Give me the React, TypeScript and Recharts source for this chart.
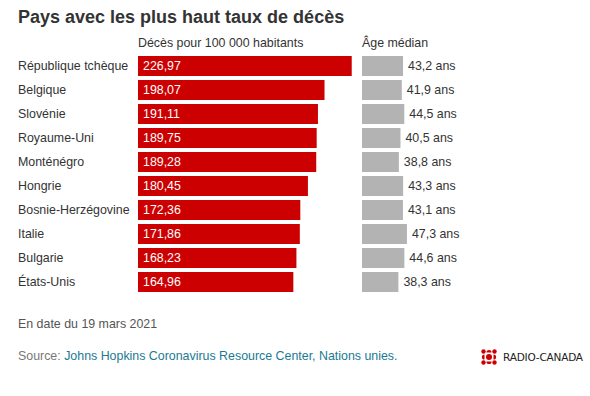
import React from 'react';
import { BarChart, Bar, XAxis, YAxis, LabelList } from 'recharts';

const countries = [
  'République tchèque',
  'Belgique',
  'Slovénie',
  'Royaume-Uni',
  'Monténégro',
  'Hongrie',
  'Bosnie-Herzégovine',
  'Italie',
  'Bulgarie',
  'États-Unis',
];
const deathsPer100k = [226.97, 198.07, 191.11, 189.75, 189.28, 180.45, 172.36, 171.86, 168.23, 164.96];
const medianAge = [43.2, 41.9, 44.5, 40.5, 38.8, 43.3, 43.1, 47.3, 44.6, 38.3];

const title = 'Pays avec les plus haut taux de décès';
const deathsHeader = 'Décès pour 100 000 habitants';
const ageHeader = 'Âge médian';
const dateNote = 'En date du 19 mars 2021';
const sourceLabel = 'Source: ';
const sourceText = 'Johns Hopkins Coronavirus Resource Center, Nations unies.';

const data = countries.map((c, i) => ({ country: c, deaths: deathsPer100k[i], age: medianAge[i] }));

const FONT = '"Liberation Sans", Arial, Helvetica, sans-serif';
const TEXT = '#333333';
const RED = '#cc0000';
const GREY = '#b3b3b3';
const FS = 12.4;

const CountryTick = (props: any) => {
  const { y, payload } = props;
  return (
    <text x={18} y={y} dy="0.35em" textAnchor="start" fontSize={FS} fill={TEXT} fontFamily={FONT}>
      {payload.value}
    </text>
  );
};

const Gem = () => {
  const cx = 489;
  const cy = 357;
  return (
    <svg width={20} height={20} viewBox={`${cx - 10} ${cy - 10} 20 20`} style={{ position: 'absolute', left: cx - 10, top: cy - 10 }}>
      <circle cx={cx} cy={cy} r={3} fill={RED} />
      <path d={`M ${cx - 2.6} ${cy - 4.5} A 2.6 2.6 0 0 1 ${cx + 2.6} ${cy - 4.5} Z`} fill={RED} />
      <path d={`M ${cx - 2.6} ${cy + 4.5} A 2.6 2.6 0 0 0 ${cx + 2.6} ${cy + 4.5} Z`} fill={RED} />
      <path d={`M ${cx - 4.5} ${cy - 2.6} A 2.6 2.6 0 0 0 ${cx - 4.5} ${cy + 2.6} Z`} fill={RED} />
      <path d={`M ${cx + 4.5} ${cy - 2.6} A 2.6 2.6 0 0 1 ${cx + 4.5} ${cy + 2.6} Z`} fill={RED} />
      <circle cx={cx - 5.5} cy={cy - 5.5} r={2.2} fill={RED} />
      <circle cx={cx + 5.5} cy={cy - 5.5} r={2.2} fill={RED} />
      <circle cx={cx - 5.5} cy={cy + 5.5} r={2.2} fill={RED} />
      <circle cx={cx + 5.5} cy={cy + 5.5} r={2.2} fill={RED} />
    </svg>
  );
};

export default function App() {
  return (
    <div
      style={{
        position: 'absolute',
        left: 0,
        top: 0,
        width: 590,
        height: 396,
        background: '#ffffff',
        fontFamily: FONT,
        color: TEXT,
        overflow: 'hidden',
      }}
    >
      <div style={{ position: 'absolute', left: 18, top: 5, fontSize: 18, fontWeight: 'bold', color: '#333', whiteSpace: 'nowrap', lineHeight: '24px' }}>
        {title}
      </div>
      <div style={{ position: 'absolute', left: 138, top: 35, fontSize: FS, whiteSpace: 'nowrap', lineHeight: '16px' }}>
        {deathsHeader}
      </div>
      <div style={{ position: 'absolute', left: 362, top: 35, fontSize: FS, whiteSpace: 'nowrap', lineHeight: '16px' }}>
        {ageHeader}
      </div>

      <div style={{ position: 'absolute', left: 0, top: 54 }}>
        <BarChart width={364} height={240} data={data} layout="vertical" margin={{ top: 0, right: 0, bottom: 0, left: 0 }}>
          <XAxis type="number" hide domain={[0, 240]} allowDataOverflow />
          <YAxis type="category" dataKey="country" width={138} axisLine={false} tickLine={false} tick={<CountryTick />} interval={0} />
          <Bar dataKey="deaths" fill={RED} barSize={20} isAnimationActive={false}>
            <LabelList
              dataKey="deaths"
              position="insideLeft"
              offset={5}
              fill="#ffffff"
              fontSize={FS}
              fontFamily={FONT}
              formatter={(v: any) => Number(v).toFixed(2).replace('.', ',')}
            />
          </Bar>
        </BarChart>
      </div>

      <div style={{ position: 'absolute', left: 362, top: 54 }}>
        <BarChart width={160} height={240} data={data} layout="vertical" margin={{ top: 0, right: 65, bottom: 0, left: 0 }}>
          <XAxis type="number" hide domain={[0, 100]} allowDataOverflow />
          <YAxis type="category" dataKey="country" hide />
          <Bar dataKey="age" fill={GREY} barSize={20} isAnimationActive={false}>
            <LabelList
              dataKey="age"
              position="right"
              offset={5}
              fill={TEXT}
              fontSize={FS}
              fontFamily={FONT}
              formatter={(v: any) => Number(v).toFixed(1).replace('.', ',') + ' ans'}
            />
          </Bar>
        </BarChart>
      </div>

      <div style={{ position: 'absolute', left: 18, top: 316, fontSize: FS, color: '#555', whiteSpace: 'nowrap', lineHeight: '16px' }}>
        {dateNote}
      </div>
      <div style={{ position: 'absolute', left: 18, top: 348, fontSize: FS, whiteSpace: 'nowrap', lineHeight: '16px' }}>
        <span style={{ color: '#777' }}>{sourceLabel}</span>
        <span style={{ color: '#1b7a92' }}>{sourceText}</span>
      </div>

      <Gem />
      <div style={{ position: 'absolute', left: 503, top: 351, fontSize: 10.5, color: '#222', whiteSpace: 'nowrap', lineHeight: '13px', fontFamily: '"DejaVu Sans", sans-serif', letterSpacing: -0.2 }}>
        RADIO-CANADA
      </div>
    </div>
  );
}
